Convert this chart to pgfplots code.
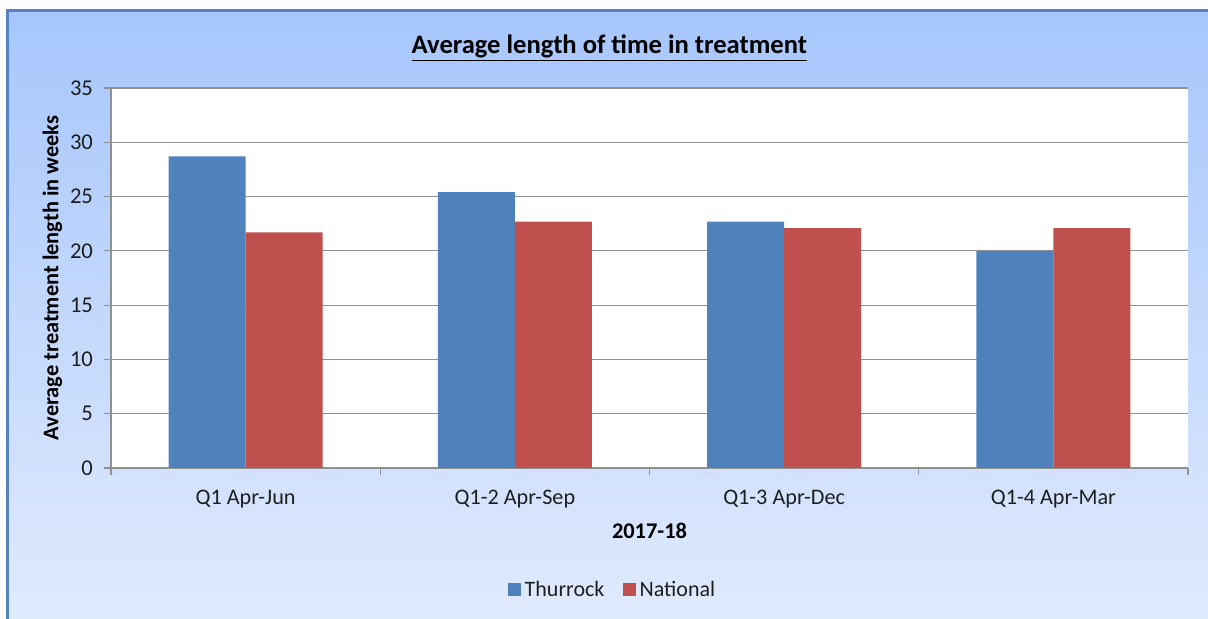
\documentclass[border=0pt]{standalone}
\usepackage{pgfplots}
\pgfplotsset{compat=1.18}
\usepackage{fontspec}
\setmainfont{Carlito}
\definecolor{thur}{RGB}{79,129,189}
\definecolor{nat}{RGB}{192,80,77}
\definecolor{bgtop}{RGB}{166,198,252}
\definecolor{bgbot}{RGB}{224,234,253}
\definecolor{framec}{RGB}{84,130,194}
\definecolor{gridc}{RGB}{145,145,145}
\definecolor{txt}{RGB}{30,30,30}
\begin{document}
\begin{tikzpicture}
\path[use as bounding box, fill=white] (0,0) rectangle (604pt,309.5pt);
\shade[top color=bgtop, bottom color=bgbot] (3.5pt,0) rectangle (604pt,304.5pt);
\draw[framec, line width=1.3pt] (3.8pt,0) -- (3.8pt,304.2pt) -- (604pt,304.2pt);
\node[font=\fontsize{13.3}{15}\selectfont\bfseries, text=black] at (304.7pt,285.5pt) {\underline{Average length of time in treatment}};
\begin{axis}[
  at={(55.5pt,75.5pt)}, anchor=south west,
  scale only axis, width=538.5pt, height=190pt,
  xmin=-0.5, xmax=3.5, ymin=0, ymax=35,
  axis background/.style={fill=white},
  axis x line*=bottom, axis y line*=left,
  axis line style={gridc, line width=0.6pt},
  ytick={0,5,...,35},
  ymajorgrids, grid style={gridc, line width=0.6pt},
  tick align=outside,
  ytick style={gridc, line width=0.6pt},
  major tick length=3.5pt,
  xtick={0,1,2,3},
  xticklabels={Q1 Apr-Jun, Q1-2 Apr-Sep, Q1-3 Apr-Dec, Q1-4 Apr-Mar},
  xtick style={draw=none},
  extra x ticks={-0.5,0.5,1.5,2.5,3.5},
  extra x tick labels={},
  extra x tick style={grid=none, xtick style={draw=gridc, line width=0.6pt}},
  /pgf/number format/assume math mode=true,
  xticklabel style={font=\fontsize{11.1}{13}\selectfont, text=txt, yshift=-3.8pt},
  yticklabel style={font=\fontsize{11.3}{13}\selectfont, text=txt, xshift=-2pt},
  ybar, bar width=0.286,
  xlabel={2017-18}, ylabel={Average treatment length in weeks},
  xlabel style={font=\fontsize{11.2}{13}\selectfont\bfseries, text=black, at={(axis description cs:0.5,-0.166)}, anchor=center},
  ylabel style={font=\fontsize{11.2}{13}\selectfont\bfseries, text=black, at={(axis description cs:-0.0545,0.5)}, anchor=center, rotate=0},
  legend style={at={(axis description cs:0.4667,-0.321)}, anchor=center, draw=none, fill=none,
    font=\fontsize{11}{13}\selectfont, text=txt, legend columns=2,
    /tikz/every even column/.append style={column sep=7.3pt}},
  legend image code/.code={\fill[#1] (0pt,-3pt) rectangle (6.3pt,3.3pt);},
]
\addplot[fill=thur, draw=none, bar shift=-0.143] coordinates {(0,28.7) (1,25.4) (2,22.7) (3,20.0)};
\addplot[fill=nat, draw=none, bar shift=0.143] coordinates {(0,21.7) (1,22.7) (2,22.1) (3,22.1)};
\legend{Thurrock, National}
\end{axis}
\end{tikzpicture}
\end{document}
